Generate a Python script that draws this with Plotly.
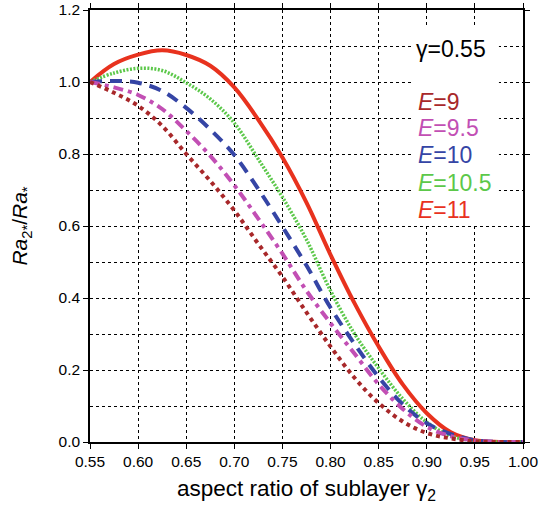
import plotly.graph_objects as go

gamma2 = [0.55, 0.575, 0.60, 0.625, 0.65, 0.675, 0.70, 0.725, 0.75, 0.775,
          0.80, 0.825, 0.85, 0.875, 0.90, 0.925, 0.95, 0.975, 1.00]

ra_E11 = [1.0, 1.05, 1.076, 1.088, 1.075, 1.045, 0.985, 0.895, 0.79, 0.665,
          0.52, 0.385, 0.265, 0.16, 0.08, 0.027, 0.005, 0.0, 0.0]
ra_E105 = [1.0, 1.025, 1.038, 1.032, 0.998, 0.953, 0.886, 0.785, 0.68, 0.562,
           0.42, 0.30, 0.205, 0.12, 0.055, 0.017, 0.003, 0.0, 0.0]
ra_E10 = [1.0, 1.003, 0.998, 0.975, 0.928, 0.868, 0.797, 0.702, 0.598, 0.49,
          0.373, 0.272, 0.18, 0.105, 0.052, 0.022, 0.005, 0.0, 0.0]
ra_E95 = [1.0, 0.985, 0.964, 0.925, 0.864, 0.795, 0.713, 0.62, 0.523, 0.42,
          0.33, 0.245, 0.16, 0.092, 0.042, 0.016, 0.004, 0.0, 0.0]
ra_E9 = [1.0, 0.97, 0.934, 0.878, 0.80, 0.725, 0.643, 0.55, 0.459, 0.36,
         0.265, 0.178, 0.108, 0.057, 0.025, 0.01, 0.002, 0.0, 0.0]

series = [
    ("E=11", ra_E11, "#e8321e", "solid", 4),
    ("E=10.5", ra_E105, "#5cc84a", "2px,1.5px", 3.5),
    ("E=10", ra_E10, "#3545a5", "12px,8px", 4),
    ("E=9.5", ra_E95, "#c24fb4", "10px,5px,4px,5px", 4),
    ("E=9", ra_E9, "#a8282a", "4px,4px", 4),
]

legend_labels = ["<i>E</i>=9", "<i>E</i>=9.5", "<i>E</i>=10", "<i>E</i>=10.5", "<i>E</i>=11"]
legend_colors = ["#a8282a", "#c24fb4", "#3545a5", "#5cc84a", "#e8321e"]
legend_y = [0.944, 0.872, 0.797, 0.719, 0.644]

fig = go.Figure()
for name, ys, col, dash, w in series:
    fig.add_trace(go.Scatter(x=gamma2, y=ys, mode="lines", name=name,
                             line=dict(color=col, dash=dash, width=w, shape="spline", smoothing=1.0),
                             showlegend=False))

font = "Liberation Sans, Arial, sans-serif"

fig.add_shape(type="rect", xref="x", yref="y", x0=0.884, x1=0.975, y0=0.6, y1=1.15,
              fillcolor="white", line=dict(width=0), layer="between")

fig.add_annotation(x=0.887, y=1.093, xref="x", yref="y", text="γ=0.55", showarrow=False,
                   xanchor="left", font=dict(size=23, color="black", family=font))
for lab, col, yy in zip(legend_labels, legend_colors, legend_y):
    fig.add_annotation(x=0.889, y=yy, xref="x", yref="y", text=lab, showarrow=False,
                       xanchor="left", font=dict(size=23, color=col, family=font))

axis_common = dict(showline=True, linecolor="black", linewidth=1.5, mirror="ticks",
                   ticks="outside", ticklen=5, tickcolor="black", tickwidth=1.2,
                   showgrid=True, gridcolor="black", griddash="dot", gridwidth=1,
                   zeroline=False, automargin=False,
                   tickfont=dict(size=15.5, color="black", family=font))

fig.update_xaxes(range=[0.55, 1.0], dtick=0.05, tick0=0.55, tickformat=".2f",
                 title=dict(text="aspect ratio of sublayer γ<sub>2</sub>",
                            font=dict(size=22.5, color="black", family=font), standoff=11),
                 **axis_common)
fig.update_yaxes(range=[0, 1.2], dtick=0.2, tick0=0, tickformat=".1f",
                 minor=dict(dtick=0.1, showgrid=True, gridcolor="black", griddash="dot", gridwidth=1),
                 title=dict(text="<i>Ra</i><sub>2*</sub>/<i>Ra</i><sub>*</sub>",
                            font=dict(size=21, color="black", family=font), standoff=25),
                 **axis_common)

fig.update_layout(width=539, height=516, margin=dict(l=90, r=16, t=10, b=74),
                  plot_bgcolor="white", paper_bgcolor="white")

fig.write_html("out.html")
